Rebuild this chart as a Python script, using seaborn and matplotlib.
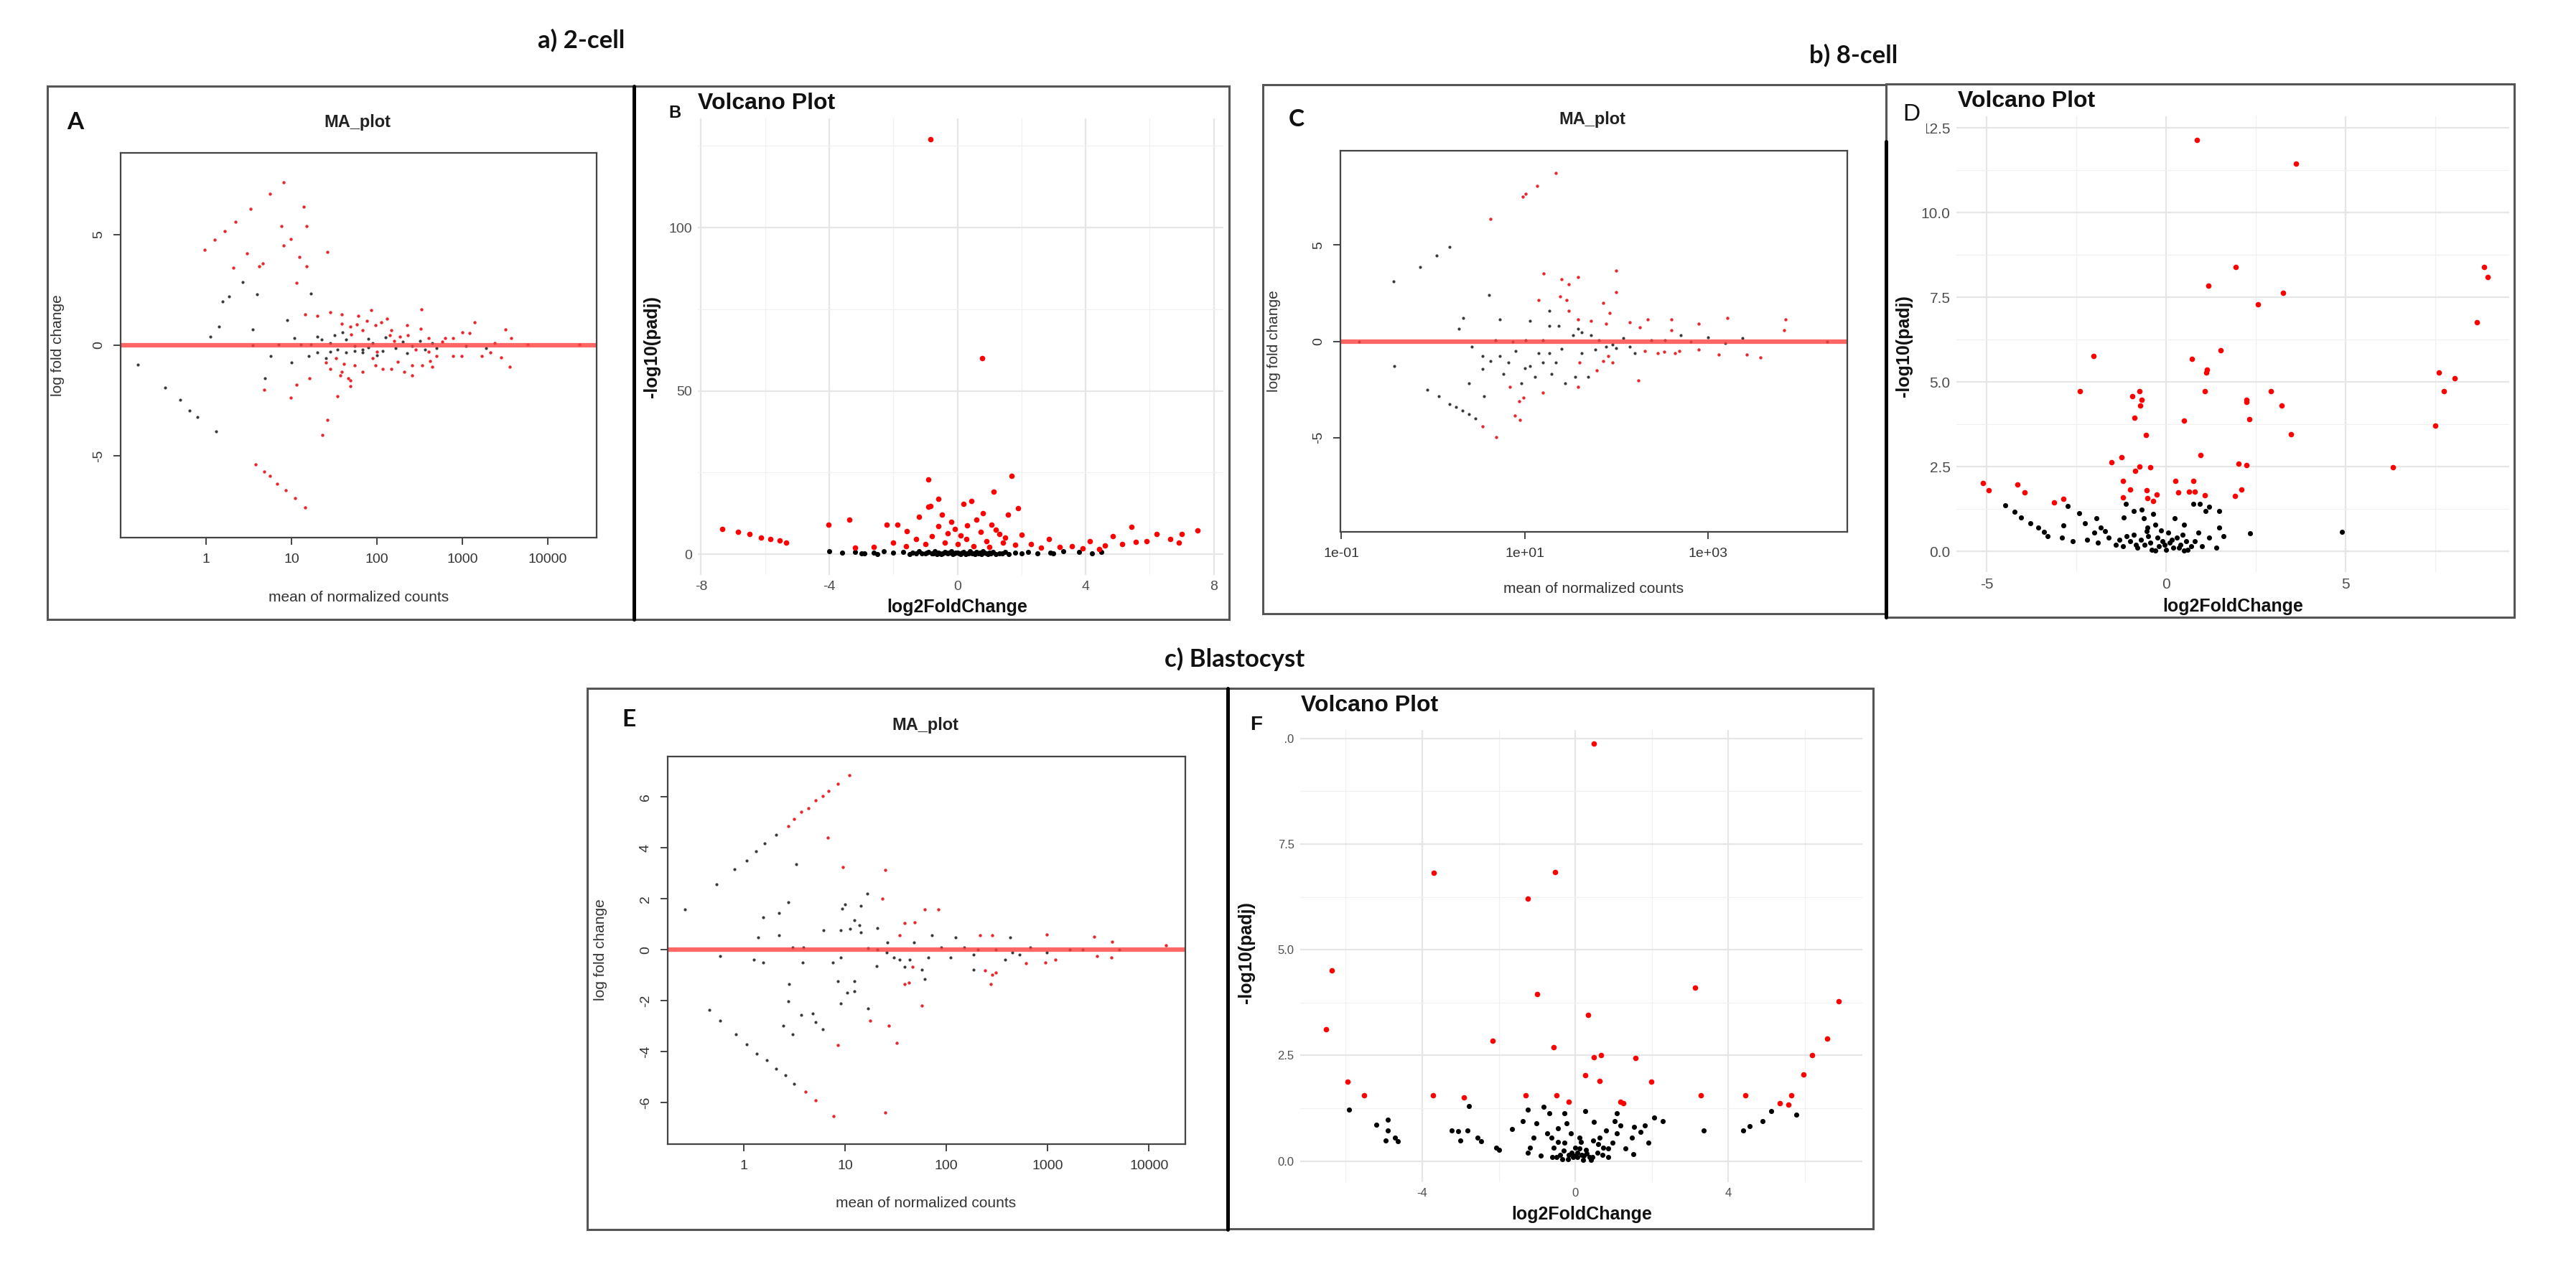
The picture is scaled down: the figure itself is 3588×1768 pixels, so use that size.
import numpy as np
import matplotlib
matplotlib.use("Agg")
import matplotlib.pyplot as plt
from matplotlib.patches import Rectangle
from matplotlib.lines import Line2D
import seaborn as sns

# ---------------------------------------------------------------------------
# Data (MA plots: log10 mean count, log fold change;
# volcano plots: log2FoldChange, -log10(padj))
# ---------------------------------------------------------------------------

# a) 2-cell, MA plot
a_sig_log10mean = [-0.02, 0.1, 0.22, 0.34, 0.52, 0.75, 0.91, 0.48, 0.62, 0.66, 0.32, 1.06, 1.18,
                   1.09, 0.99, 0.91, 0.88, 1.18, 1.14, 1.42, 1.16, 1.3, 1.45, 1.59, 1.78, 1.93,
                   1.59, 1.69, 1.83, 1.98, 2.05, 2.17, 2.27, 2.36, 2.51, 2.52, 2.6, 2.8, 2.89,
                   3.14, 3.5, 3.57, 3.38, 3.76, 4.37, 1.4, 1.45, 1.59, 1.61, 1.74, 1.83, 1.98,
                   2.07, 2.17, 2.32, 2.41, 2.41, 2.53, 2.65, 2.7, 2.89, 2.99, 3.23, 3.33, 3.55,
                   1.57, 1.66, 0.68, 0.99, 1.06, 1.21, 1.42, 1.36, 1.54, 1.69, 1.69, 0.58, 0.68,
                   0.75, 0.83, 0.93, 1.04, 1.16, 2.2, 2.45, 3.0, 2.0, 1.88, 2.12, 2.62, 3.08,
                   1.52, 1.76, 2.24, 2.76, 3.45, 1.95, 2.15, 2.35, 2.6, 1.7]
a_sig_lfc = [4.33, 4.77, 5.17, 5.57, 6.16, 6.84, 7.38, 4.16, 3.58, 3.7, 3.5, 2.83, 3.58,
             4.0, 4.8, 4.5, 5.4, 5.38, 6.26, 4.23, 1.41, 1.33, 1.48, 1.41, 1.33, 1.58,
             0.97, 0.83, 0.68, 0.9, 1.04, 0.68, 0.39, 0.46, 0.75, 1.62, 0.32, 0.32, 0.32,
             1.04, 0.71, 0.32, 0.1, 0.03, 0.03, -0.77, -1.06, -1.2, -0.84, -0.91, -1.2, -0.91,
             -1.06, -1.06, -1.2, -0.91, -1.35, -0.91, -0.99, -0.48, -0.48, -0.48, -0.48, -0.33, -0.99,
             -1.35, -1.49, -2.0, -2.36, -1.78, -1.49, -3.38, -4.06, -2.32, -1.86, -1.6, -5.38, -5.7,
             -5.91, -6.25, -6.57, -6.93, -7.34, 0.2, -0.2, 0.6, -0.3, 1.1, 1.2, -0.7, 0.55,
             -0.6, 0.95, -0.75, 0.15, -0.55, -0.6, 0.45, 0.9, -0.3, 0.5]
a_ns_log10mean = [0.19, 0.27, 0.43, 0.6, 1.23, 0.05, 0.15, 0.55, 0.95, 1.03, 1.3, 1.83, 0.76,
                  1.0, 1.3, -0.8, -0.48, -0.3, -0.19, -0.1, 0.12, 0.69, 1.35, 1.5, 1.64, 1.74,
                  1.83, 1.95, 2.07, 2.22, 2.41, 2.56, 2.7, 3.04, 3.28, 1.11, 1.23, 1.45, 1.54,
                  1.64, 1.74, 0.55, 0.85, 1.9, 2.3, 1.2, 1.6, 1.4, 2.0, 2.5, 1.45, 1.9, 2.1,
                  2.35, 2.65]
a_ns_lfc = [1.99, 2.2, 2.86, 2.3, 2.35, 0.39, 0.86, 0.71, 1.14, 0.32, 0.39, -0.19, -0.5,
            -0.77, -0.33, -0.88, -1.93, -2.48, -2.94, -3.26, -3.91, -1.49, 0.25, 0.46, 0.25, -0.04,
            -0.33, 0.1, -0.26, -0.12, -0.04, -0.19, -0.12, -0.04, -0.12, 0.03, 0.03, 0.1, -0.19,
            -0.33, -0.26, 0.0, 0.03, 0.3, 0.15, -0.5, 0.6, -0.6, -0.45, 0.2, -0.3, -0.1, 0.35,
            -0.35, 0.1]

# a) 2-cell, volcano plot
b_sig_lfc = [-0.85, 0.77, -0.9, 1.7, 1.14, 0.44, -0.9, -7.34, -6.85, -6.49, -6.13, -5.84, -5.55,
             -5.35, -4.03, -3.38, -2.21, -1.88, -1.57, -1.2, -0.85, -0.49, -1.28, -0.07, 0.29,
             0.72, 1.07, 1.3, 1.57, 1.43, 2.86, 3.58, 4.14, 4.43, 4.86, 5.14, 5.43, 5.57, 6.22,
             6.64, 7.0, 7.5, -1.0, -0.8, -0.6, -0.4, -0.2, 0.0, 0.1, 0.3, 0.5, 0.6, 0.9, 1.0,
             1.2, 1.5, 1.8, 2.0, 2.3, 2.6, 3.2, 3.9, -1.6, -2.0, -2.6, -3.2, -0.3, 0.8, 0.2,
             -0.6, 1.9, 4.6, 5.9, 6.9]
b_sig_padj = [127, 60, 22.9, 24, 19.2, 16.2, 14.5, 7.7, 6.9, 6.2, 5.1, 4.6, 4.2,
              3.5, 9.1, 10.6, 9.1, 9.1, 7.1, 11.5, 14.8, 12.2, 4.6, 7.7, 4.6,
              6.9, 9.1, 6.2, 12.0, 3.6, 4.6, 2.4, 3.9, 1.6, 5.5, 3.1, 8.4, 3.8, 6.2,
              4.6, 6.2, 7.2, 3.0, 5.5, 8.5, 3.5, 10.0, 3.0, 5.8, 8.8, 2.5, 10.5, 4.0, 2.2,
              7.5, 5.0, 2.8, 6.0, 3.2, 2.0, 2.2, 1.8, 2.5, 3.5, 2.3, 2.0, 6.5, 12.5, 15.5,
              17.0, 14.0, 2.6, 4.0, 3.5]
b_ns_lfc = [-4.0, -3.6, -3.2, -2.9, -2.6, -2.3, -2.0, -1.7, -1.4, -1.2, -1.0, -0.9, -0.8, -0.7,
            -0.6, -0.5, -0.4, -0.3, -0.2, -0.1, 0.0, 0.1, 0.2, 0.3, 0.4, 0.5, 0.6, 0.7, 0.8,
            0.9, 1.0, 1.1, 1.3, 1.5, 1.8, 2.2, 2.5, 2.9, 3.3, 3.8, -0.55, 0.15, 0.35, -0.25, 0.75,
            -1.1, -0.95, -0.75, -0.65, -0.45, -0.35, -0.15, -0.05, 0.05, 0.25, 0.45, 0.55, 0.65,
            0.85, 0.95, 1.05, 1.2, 1.4, -1.3, -1.5, 1.6, 2.0, -2.5, -3.0, 3.0, 4.2, 4.5]
b_ns_padj = [0.9, 0.5, 0.6, 0.3, 0.5, 0.8, 0.4, 0.7, 0.5, 0.9, 0.3, 0.6, 0.2, 0.8,
             0.4, 0.1, 0.6, 0.3, 0.9, 0.2, 0.5, 0.1, 0.7, 0.3, 0.9, 0.2, 0.6, 0.4, 0.8,
             0.2, 0.5, 0.7, 0.3, 0.6, 0.4, 0.7, 0.3, 0.5, 0.8, 0.6, 0.35, 0.45, 0.15, 0.55, 0.1,
             0.15, 0.45, 0.3, 0.05, 0.25, 0.5, 0.05, 0.4, 0.25, 0.05, 0.35, 0.05, 0.2,
             0.4, 0.05, 0.25, 0.1, 0.2, 0.2, 0.1, 0.1, 0.2, 0.1, 0.15, 0.2, 0.3, 0.6]

# b) 8-cell, MA plot
c_sig_log10mean = [1.34, 1.14, 1.01, 0.98, 0.63, 1.21, 1.4, 1.48, 1.58, 2.0, 2.0, 1.15, 1.39,
                   1.46, 1.48, 1.86, 1.93, 1.58, 1.72, 1.89, 2.15, 2.26, 2.34, 2.6, 2.6, 2.9,
                   3.21, 3.85, 3.83, 2.45, 2.52, 2.64, 2.69, 2.9, 3.12, 3.42, 3.57, 2.31, 1.86,
                   1.96, 1.91, 1.79, 1.6, 2.24, 1.58, 1.2, 0.99, 0.94, 0.84, 0.89, 0.95, 0.69, 0.54]
c_sig_lfc = [8.73, 8.07, 7.65, 7.53, 6.37, 3.53, 3.23, 2.98, 3.32, 3.68, 2.57, 2.15, 2.32,
             2.15, 1.57, 1.98, 1.48, 1.15, 1.07, 0.9, 0.98, 0.73, 1.15, 1.15, 0.57, 0.9,
             1.23, 1.15, 0.57, -0.6, -0.55, -0.6, -0.52, -0.43, -0.68, -0.68, -0.85, -0.52, -1.02,
             -1.1, -0.77, -1.52, -1.1, -2.02, -2.35, -2.68, -2.93, -3.1, -2.35, -3.85, -4.1, -4.97, -4.43]
c_ns_log10mean = [0.18, 0.04, -0.14, -0.43, 0.61, 0.33, 0.28, 0.73, 1.06, 1.27, 1.37, 1.27, 1.58,
                  1.62, 1.72, 1.81, 1.96, 2.08, -0.06, 0.06, 0.18, 0.25, 0.32, 0.39, 0.46, -0.42,
                  0.54, 0.63, 0.73, 0.82, 0.54, 0.39, 0.56, 0.77, 0.96, 1.06, 1.15, 1.2, 1.27,
                  1.34, 1.29, 1.44, 1.55, 1.69, 1.11, 1.77, 1.89, 2.0, 2.15, 0.42, 0.68, 0.87,
                  1.01, 1.2, 1.53, 2.38, 2.53, 2.81, 3.19, 3.38, -0.81, 4.3, 0.9, 1.0, 1.4, 1.62,
                  2.2, 2.7, 3.0]
c_ns_lfc = [4.9, 4.45, 3.85, 3.12, 2.4, 1.23, 0.65, 1.15, 1.07, 0.82, 0.82, 1.57, 0.65,
            0.48, 0.3, 0.07, -0.18, 0.15, -2.52, -2.85, -3.27, -3.43, -3.6, -3.8, -4.02, -1.27,
            -0.77, -1.02, -0.77, -1.1, -1.43, -2.18, -2.85, -1.68, -2.18, -1.27, -0.6, -1.1, -0.6,
            -1.1, -1.68, -2.18, -1.85, -1.85, -1.85, -0.43, -0.27, -0.35, -0.27, -0.27, 0.07, -0.02,
            0.07, 0.07, 0.32, 0.07, 0.07, -0.02, -0.1, 0.15, -0.02, -0.02, -0.5, -1.4, -0.4, -0.6,
            -0.6, 0.3, 0.2]

# b) 8-cell, volcano plot
d_sig_lfc = [0.86, 3.62, 1.94, 1.18, 3.26, 2.56, 1.51, 0.72, 1.13, 1.12, 1.07, -2.03, -2.41,
             -0.94, -0.75, -0.69, -0.72, -0.88, -0.56, 0.5, 2.23, 2.23, 2.31, 2.92, 3.21, 3.48,
             0.96, -1.53, -1.24, -0.75, -0.44, -0.86, 2.02, 2.23, 6.32, 7.6, 7.73, 8.03, 7.49,
             -5.11, -4.95, -4.14, -3.95, -3.13, -2.86, -1.21, -1.0, -0.55, -0.53, -0.26, -0.37,
             -1.2, 0.25, 0.75, 0.34, 0.64, 0.79, 1.07, 1.91, 2.09, 8.66, 8.85, 8.95]
d_sig_padj = [12.14, 11.45, 8.39, 7.85, 7.64, 7.29, 5.93, 5.69, 5.36, 5.27, 4.72, 5.76, 4.72,
              4.57, 4.72, 4.48, 4.31, 3.94, 3.43, 3.85, 4.48, 4.41, 3.91, 4.72, 4.31, 3.45,
              2.84, 2.64, 2.77, 2.5, 2.48, 2.37, 2.59, 2.55, 2.48, 5.27, 4.72, 5.1, 3.71,
              2.02, 1.8, 1.98, 1.74, 1.45, 1.54, 2.09, 1.83, 1.8, 1.58, 1.67, 1.49,
              1.6, 2.09, 2.09, 1.74, 1.76, 1.76, 1.65, 1.64, 1.83, 6.76, 8.4, 8.1]
d_ns_lfc = [-4.49, -4.22, -4.05, -3.78, -3.57, -3.4, -2.86, -2.75, -2.43, -2.27, -1.94, -1.83,
            -1.18, -1.13, -0.91, -0.69, -0.62, -0.37, -0.53, -0.31, -0.15, 0.23, 0.5, 0.75,
            0.93, 1.09, 1.2, 1.47, 1.47, 2.34, 4.89, -3.3, -2.9, -2.6, -2.2, -1.9, -1.6, -1.4,
            -1.2, -1.0, -0.8, -0.6, -0.4, -0.2, 0.0, 0.2, 0.4, 0.6, 0.8, 1.0, 1.2, -0.5, 0.3,
            -1.7, 0.9, 1.6, -0.1, 0.5, -0.3, 0.1, -0.9, -2.0, 1.4, -0.7, -0.45, -0.25, -0.05,
            0.15, 0.35, 0.55, 0.7, -1.1, -1.3, -0.85, 0.05, -0.55, 0.45]
d_ns_padj = [1.36, 1.16, 1.01, 0.83, 0.7, 0.57, 0.77, 1.34, 1.12, 0.83, 0.97, 0.7,
             1.01, 1.41, 1.19, 1.23, 0.97, 1.1, 0.7, 0.79, 0.62, 0.97, 0.79, 1.41,
             1.41, 1.19, 1.32, 1.19, 0.7, 0.54, 0.57, 0.45, 0.4, 0.3, 0.35, 0.25, 0.4, 0.2,
             0.15, 0.3, 0.1, 0.2, 0.05, 0.15, 0.05, 0.1, 0.2, 0.05, 0.3, 0.15, 0.4, 0.45, 0.4,
             0.6, 0.55, 0.45, 0.3, 0.02, 0.02, 0.25, 0.5, 0.55, 0.1, 0.35, 0.25, 0.4, 0.2,
             0.35, 0.1, 0.3, 0.15, 0.45, 0.35, 0.2, 0.55, 0.6, 0.5]

# c) Blastocyst, MA plot
e_sig_log10mean = [0.44, 0.5, 0.57, 0.64, 0.71, 0.78, 0.84, 0.93, 1.04, 0.83, 0.98, 1.4, 1.37,
                   1.79, 1.69, 1.59, 1.92, 2.99, 3.46, 3.64, 4.17, 2.33, 2.45, 2.38, 2.45, 2.49,
                   2.44, 1.76, 1.25, 1.43, 1.51, 0.93, 1.4, 0.89, 0.71, 0.61, 2.79, 2.98, 3.08,
                   3.49, 3.63, 1.59, 1.63, 1.67, 1.54]
e_sig_lfc = [4.85, 5.12, 5.4, 5.56, 5.85, 6.04, 6.23, 6.52, 6.86, 4.41, 3.24, 3.12, 2.0,
             1.58, 1.08, 1.04, 1.58, 0.6, 0.51, 0.32, 0.18, 0.57, 0.57, -0.81, -0.97, -0.9,
             -1.35, -2.18, -2.79, -2.99, -3.66, -3.75, -6.4, -6.53, -5.92, -5.57, -0.53, -0.49, -0.4,
             -0.26, -0.3, -1.35, -1.3, -0.68, 0.57]
e_ns_log10mean = [-0.58, -0.27, -0.09, 0.03, 0.12, 0.21, 0.32, -0.34, -0.23, -0.08, 0.03, 0.13,
                  0.23, 0.32, 0.41, 0.5, -0.23, 0.44, 0.52, 0.19, 0.35, 0.14, 0.35, 0.48, 0.59,
                  0.1, 0.19, 0.45, 0.44, 0.39, 0.48, 0.58, 0.57, 0.71, 0.78, 0.68, 0.79, 0.88,
                  0.96, 0.96, 1.05, 1.14, 0.93, 0.96, 1.02, 1.09, 0.97, 1.0, 1.16, 1.22, 1.09,
                  1.16, 1.23, 1.32, 1.41, 1.32, 1.42, 1.48, 1.54, 1.59, 1.64, 1.68, 1.76, 1.82,
                  1.86, 1.95, 2.04, 2.09, 2.18, 2.27, 2.31, 2.49, 2.58, 2.65, 2.72, 2.83, 2.99,
                  3.22, 3.35, 3.71, 2.63, 2.27, 1.23, 1.31, 1.09, 1.79]
e_ns_lfc = [1.58, 2.58, 3.16, 3.5, 3.87, 4.18, 4.5, -2.35, -2.79, -3.31, -3.71, -4.08,
            -4.33, -4.67, -4.94, -5.25, -0.24, 1.85, 3.35, 1.27, 1.43, 0.47, 0.57, 0.09, 0.09,
            -0.39, -0.49, -1.35, -2.02, -2.99, -3.33, -0.49, -2.56, -2.83, -3.12, -2.5, 0.76, -0.49,
            0.76, -0.3, 0.82, 0.95, -1.25, -2.11, -1.7, -1.25, 1.62, 1.77, 1.72, 2.2, 1.15,
            0.67, 0.05, -0.01, -0.1, 0.86, 0.28, -0.3, -0.39, -0.68, -0.39, 0.28, -0.78, -0.3,
            0.57, 0.09, -0.3, 0.47, 0.09, -0.2, 0.0, 0.0, -0.39, -0.1, -0.2, 0.09, -0.1,
            0.0, 0.0, 0.0, 0.47, -0.78, -2.31, -0.64, -1.64, -1.16]

# c) Blastocyst, volcano plot
f_sig_lfc = [0.49, -3.7, -0.53, -1.25, -6.37, -6.52, -1.0, 3.13, 0.34, -2.16, -0.57, 0.49, 0.68,
             1.57, 0.26, 0.63, 1.99, -5.95, -5.52, -3.72, -2.92, -1.29, -0.49, -0.17, 1.17, 1.25,
             3.27, 4.44, 5.35, 5.57, 5.65, 5.97, 6.18, 6.58, 6.88]
f_sig_padj = [9.87, 6.82, 6.84, 6.21, 4.51, 3.12, 3.95, 4.1, 3.46, 2.84, 2.69, 2.45, 2.51,
              2.43, 2.03, 1.9, 1.88, 1.88, 1.56, 1.56, 1.5, 1.56, 1.56, 1.41, 1.41, 1.36,
              1.56, 1.56, 1.36, 1.34, 1.56, 2.05, 2.51, 2.89, 3.78]
f_ns_lfc = [-5.92, -5.21, -4.91, -4.91, -4.95, -4.72, -4.63, -3.24, -3.07, -2.81, -3.01, -2.56,
            -2.47, -2.79, -2.07, -1.99, -1.65, -1.37, -1.25, -1.25, -1.19, -1.1, -1.02, -0.83,
            -0.74, -0.68, -0.63, -0.57, -0.46, -0.4, -0.28, -0.28, -0.23, -0.17, -0.11, -0.06,
            0.0, 0.06, 0.11, 0.17, 0.26, 0.28, 0.38, 0.46, 0.49, 0.57, 0.63, 0.72, 0.8, 0.85,
            0.97, 1.02, 1.08, 1.08, 1.17, 1.48, 1.51, 1.54, 1.71, 1.82, 1.9, 2.05, 2.28, 3.36,
            4.38, 4.55, 4.89, 5.12, 5.77, -0.35, 0.05, 0.22, -0.5, 0.4, -0.9, 0.7, -0.2, -0.1,
            0.0, 0.1, 0.2, 0.3, -0.3, 0.45, 0.6, -0.6, 0.15, -0.45, 0.85, 1.3]
f_ns_padj = [1.21, 0.86, 0.98, 0.72, 0.49, 0.55, 0.46, 0.72, 0.7, 0.72, 0.49, 0.55,
             0.46, 1.3, 0.32, 0.26, 0.75, 0.95, 1.22, 0.2, 0.32, 0.55, 0.9, 1.28,
             0.66, 1.13, 0.55, 0.32, 0.78, 0.15, 1.13, 0.44, 0.9, 0.15, 0.66, 0.09,
             0.32, 0.09, 0.55, 0.15, 1.18, 0.26, 0.09, 0.49, 0.92, 0.2, 0.55, 0.32, 0.72, 0.09,
             0.44, 0.95, 1.13, 0.66, 0.84, 0.55, 0.17, 0.8, 0.69, 0.84, 0.44, 1.03, 0.95, 0.72,
             0.72, 0.82, 0.95, 1.18, 1.1, 0.05, 0.2, 0.12, 0.1, 0.02, 0.12, 0.15, 0.05, 0.2,
             0.12, 0.3, 0.03, 0.18, 0.25, 0.1, 0.4, 0.1, 0.45, 0.45, 0.3, 0.3]

# ---------------------------------------------------------------------------
# Layout helpers (pixel boxes measured on the 3588 x 1768 reference)
# ---------------------------------------------------------------------------
W, H = 3588, 1768

sns.set_theme(style="white")
plt.rcParams["font.family"] = ["Liberation Sans", "DejaVu Sans"]


def frac_box(x0, y0, x1, y1):
    return [x0 / W, 1 - y1 / H, (x1 - x0) / W, (y1 - y0) / H]


def ftext(fig, x, y, s, **kw):
    fig.text(x / W, 1 - y / H, s, **kw)


def outline(fig, x0, y0, x1, y1, color="#555555", lw=2.2):
    fig.add_artist(Rectangle((x0 / W, 1 - y1 / H), (x1 - x0) / W, (y1 - y0) / H,
                             transform=fig.transFigure, fill=False, ec=color, lw=lw))


def white_patch(fig, x0, y0, x1, y1):
    fig.add_artist(Rectangle((x0 / W, 1 - y1 / H), (x1 - x0) / W, (y1 - y0) / H,
                             transform=fig.transFigure, fc="white", ec="none", zorder=2))


def vline(fig, x, y0, y1, lw=3.6):
    fig.add_artist(Line2D([x / W, x / W], [1 - y0 / H, 1 - y1 / H],
                          transform=fig.transFigure, color="black", lw=lw))


def draw_ma(ax, sig_m, sig_l, ns_m, ns_l, xlim, ylim, xticks, xticklabels, yticks):
    sns.scatterplot(x=np.power(10.0, ns_m), y=ns_l, ax=ax, color="#3a3a3a",
                    s=9, linewidth=0)
    sns.scatterplot(x=np.power(10.0, sig_m), y=sig_l, ax=ax, color="#e8262b",
                    s=10, linewidth=0)
    ax.axhline(0, color="#ff4040", lw=4.5, alpha=0.8, zorder=1)
    ax.set_xscale("log")
    ax.set_xlim(*xlim)
    ax.set_ylim(*ylim)
    ax.set_xticks(xticks)
    ax.set_xticklabels(xticklabels)
    ax.minorticks_off()
    ax.set_yticks(yticks)
    ax.set_yticklabels([str(v) for v in yticks], rotation=90, va="center")
    ax.set_xlabel("")
    ax.set_ylabel("")
    for sp in ax.spines.values():
        sp.set_visible(True)
        sp.set_color("#444444")
        sp.set_linewidth(1.6)
    ax.tick_params(direction="out", length=7, width=1.4, color="#444444",
                   labelcolor="#333333", labelsize=14, pad=9)
    ax.tick_params(axis="x", bottom=True)
    ax.tick_params(axis="y", left=True)


def draw_volcano(ax, sig_x, sig_y, ns_x, ns_y, xlim, ylim, xmaj, xmin, ymaj, ymin, ylabels,
                 tick_size):
    ax.set_axisbelow(True)
    sns.scatterplot(x=ns_x, y=ns_y, ax=ax, color="black", s=26, linewidth=0)
    sns.scatterplot(x=sig_x, y=sig_y, ax=ax, color="red", s=30, linewidth=0)
    ax.set_xlim(*xlim)
    ax.set_ylim(*ylim)
    ax.set_xticks(xmaj)
    ax.set_xticklabels([str(v) for v in xmaj])
    ax.set_xticks(xmin, minor=True)
    ax.set_yticks(ymaj)
    ax.set_yticklabels(ylabels)
    ax.set_yticks(ymin, minor=True)
    ax.grid(which="major", color="#e6e6e6", lw=1.6)
    ax.grid(which="minor", color="#f0f0f0", lw=0.9)
    for sp in ax.spines.values():
        sp.set_visible(False)
    ax.tick_params(which="both", length=0, labelsize=tick_size, labelcolor="#4d4d4d", pad=6)
    ax.set_xlabel("")
    ax.set_ylabel("")


fig = plt.figure(figsize=(W / 100, H / 100), dpi=100)
fig.patch.set_facecolor("white")

# ---- panel frames -----------------------------------------------------------
outline(fig, 66, 120, 883, 863)
outline(fig, 883, 120, 1712, 863)
outline(fig, 1759, 118, 2627, 855)
outline(fig, 2627, 117, 3502, 860)
outline(fig, 818, 959, 1710, 1713)
outline(fig, 1710, 959, 2609, 1712)

# ---- A: MA plot 2-cell -------------------------------------------------------
ax_a = fig.add_axes(frac_box(168, 213, 831, 749))
draw_ma(ax_a, a_sig_log10mean, a_sig_lfc, a_ns_log10mean, a_ns_lfc,
        (10 ** -1.0, 10 ** 4.57), (-8.7, 8.7),
        [1, 10, 100, 1000, 10000], ["1", "10", "100", "1000", "10000"], [-5, 0, 5])

# ---- B: volcano 2-cell -------------------------------------------------------
ax_b = fig.add_axes(frac_box(972, 165, 1704, 801))
draw_volcano(ax_b, b_sig_lfc, b_sig_padj, b_ns_lfc, b_ns_padj,
             (-8.1, 8.3), (-6.35, 133.4),
             [-8, -4, 0, 4, 8], [-6, -2, 2, 6], [0, 50, 100], [25, 75, 125],
             ["0", "50", "100"], 14)

# ---- C: MA plot 8-cell -------------------------------------------------------
ax_c = fig.add_axes(frac_box(1867, 210, 2573, 741))
draw_ma(ax_c, c_sig_log10mean, c_sig_lfc, c_ns_log10mean, c_ns_lfc,
        (10 ** -1.01, 10 ** 4.52), (-9.9, 9.9),
        [0.1, 10, 1000], ["1e-01", "1e+01", "1e+03"], [-5, 0, 5])

# ---- D: volcano 8-cell -------------------------------------------------------
ax_d = fig.add_axes(frac_box(2725, 162, 3495, 797))
draw_volcano(ax_d, d_sig_lfc, d_sig_padj, d_ns_lfc, d_ns_padj,
             (-5.84, 9.56), (-0.61, 12.84),
             [-5, 0, 5], [-2.5, 2.5, 7.5], [0, 2.5, 5, 7.5, 10, 12.5],
             [1.25, 3.75, 6.25, 8.75, 11.25],
             ["0.0", "2.5", "5.0", "7.5", "10.0", "12.5"], 15)

# ---- E: MA plot blastocyst ---------------------------------------------------
ax_e = fig.add_axes(frac_box(930, 1054, 1651, 1594))
draw_ma(ax_e, e_sig_log10mean, e_sig_lfc, e_ns_log10mean, e_ns_lfc,
        (10 ** -0.75, 10 ** 4.36), (-7.63, 7.58),
        [1, 10, 100, 1000, 10000], ["1", "10", "100", "1000", "10000"],
        [-6, -4, -2, 0, 2, 4, 6])

# ---- F: volcano blastocyst ---------------------------------------------------
ax_f = fig.add_axes(frac_box(1811, 1017, 2594, 1647))
draw_volcano(ax_f, f_sig_lfc, f_sig_padj, f_ns_lfc, f_ns_padj,
             (-7.19, 7.5), (-0.5, 10.2),
             [-4, 0, 4], [-6, -2, 2, 6], [0, 2.5, 5, 7.5, 10],
             [1.25, 3.75, 6.25, 8.75],
             ["0.0", "2.5", "5.0", "7.5", "10.0"], 12)

# ---- thick dividers between paired panels -----------------------------------
vline(fig, 883, 120, 863)
vline(fig, 2627, 197, 860)
vline(fig, 1710, 959, 1713)

# the pasted panel letters hide the first digits of the top volcano tick labels
white_patch(fig, 2640, 135, 2683, 200)
white_patch(fig, 1728, 990, 1789, 1045)

# ---- stage headings ------------------------------------------------------------
head = dict(family=["Lato", "DejaVu Sans"], fontweight="bold", fontsize=25,
            ha="center", va="center", color="#111111")
ftext(fig, 810, 56, "a) 2-cell", **head)
ftext(fig, 2582, 77, "b) 8-cell", **head)
ftext(fig, 1720, 918, "c) Blastocyst", **head)

# ---- MA plot titles and labels --------------------------------------------------
letter = dict(family=["Lato", "DejaVu Sans"], fontweight="bold", fontsize=24,
              ha="center", va="center", color="#111111")
ma_title = dict(fontweight="bold", fontsize=17, ha="center", va="center", color="#222222")
ma_lab = dict(fontsize=15, ha="center", va="center", color="#333333")

for lx, ly, tx, ty, letter_s, ylx, yly, xlx, xly in [
        (105, 170, 498, 170, "A", 80, 481, 500, 832),
        (1806, 167, 2218, 167, "C", 1774, 475, 2220, 821),
        (876, 1003, 1289, 1010, "E", 836, 1323, 1290, 1677)]:
    ftext(fig, lx, ly, letter_s, **letter)
    ftext(fig, tx, ty, "MA_plot", **ma_title)
    ftext(fig, ylx, yly, "log fold change", rotation=90, **ma_lab)
    ftext(fig, xlx, xly, "mean of normalized counts", **ma_lab)

# ---- volcano titles and labels ----------------------------------------------------
v_title = dict(fontweight="bold", fontsize=23, ha="left", va="center", color="#111111")
v_lab = dict(fontweight="bold", fontsize=18, ha="center", va="center", color="#111111")

ftext(fig, 940, 157, "B", fontweight="bold", fontsize=17, ha="center", va="center",
      color="#111111")
ftext(fig, 972, 144, "Volcano Plot", **v_title)
ftext(fig, 908, 483, "-log10(padj)", rotation=90, **v_lab)
ftext(fig, 1333, 846, "log2FoldChange", **v_lab)

ftext(fig, 2662, 160, "D", fontsize=24, ha="center", va="center", color="#111111")
ftext(fig, 2727, 141, "Volcano Plot", **v_title)
ftext(fig, 2652, 482, "-log10(padj)", rotation=90, **v_lab)
ftext(fig, 3110, 845, "log2FoldChange", **v_lab)

ftext(fig, 1750, 1010, "F", fontweight="bold", fontsize=20, ha="center", va="center",
      color="#111111")
ftext(fig, 1812, 983, "Volcano Plot", **v_title)
ftext(fig, 1736, 1327, "-log10(padj)", rotation=90, **v_lab)
ftext(fig, 2203, 1692, "log2FoldChange", **v_lab)

fig.savefig("out.png", dpi=100, facecolor="white")
